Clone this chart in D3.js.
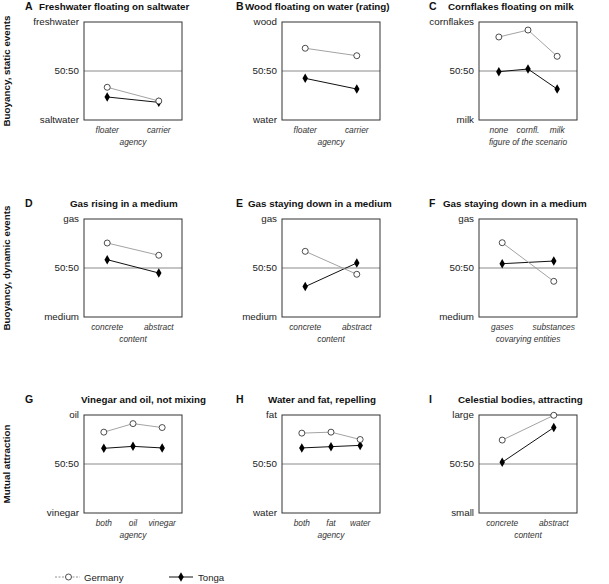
<!DOCTYPE html>
<html><head><meta charset="utf-8">
<script src="https://cdn.jsdelivr.net/npm/d3@7"></script>
<style>body{margin:0;background:#fff}svg{display:block;font-family:"Liberation Sans",Arial,sans-serif}</style>
</head><body>
<svg id="c" width="609" height="584"></svg>
<script>
// ---- data ----
const letters = ["A","B","C","D","E","F","G","H","I"];
const titles = ["Freshwater floating on saltwater","Wood floating on water (rating)","Cornflakes floating on milk",
  "Gas rising in a medium","Gas staying down in a medium","Gas staying down in a medium",
  "Vinegar and oil, not mixing","Water and fat, repelling","Celestial bodies, attracting"];
const rowLabels = ["Buoyancy, static events","Buoyancy, dynamic events","Mutual attraction"];
const yTop = ["freshwater","wood","cornflakes","gas","gas","gas","oil","fat","large"];
const yMid = "50:50";
const yBottom = ["saltwater","water","milk","medium","medium","medium","vinegar","water","small"];
const categories = [["floater","carrier"],["floater","carrier"],["none","cornfl.","milk"],
  ["concrete","abstract"],["concrete","abstract"],["gases","substances"],
  ["both","oil","vinegar"],["both","fat","water"],["concrete","abstract"]];
const xTitles = ["agency","agency","figure of the scenario","content","content","covarying entities","agency","agency","content"];
// preference for the top option (0 = bottom, 0.5 = 50:50, 1 = top)
const germany = [[0.334,0.194],[0.732,0.656],[0.847,0.918,0.650],
  [0.755,0.630],[0.670,0.436],[0.758,0.364],
  [0.825,0.912,0.872],[0.815,0.825,0.750],[0.744,0.997]];
const tonga = [[0.235,0.180],[0.425,0.316],[0.493,0.520,0.316],
  [0.585,0.449],[0.310,0.551],[0.544,0.571],
  [0.660,0.680,0.664],[0.664,0.677,0.690],[0.518,0.872]];
const seriesNames = ["Germany","Tonga"];

// ---- layout ----
const colX = [84, 282, 479], rowY = [22, 219, 415], W = 98, H = 98;
const letterX = [25, 236, 429];
const titleX = [39, 245, 448, 70, 248, 443, 81, 268, 458];

const svg = d3.select("#c");
const y = d3.scaleLinear().domain([0,1]).range([H,0]);

rowLabels.forEach((t,r)=>{
  svg.append("text").attr("transform",`translate(9.5,${rowY[r]+H/2}) rotate(-90)`)
    .attr("text-anchor","middle").attr("font-weight","bold").attr("font-size",9.8).attr("fill","#111").text(t);
});

letters.forEach((L,i)=>{
  const r = Math.floor(i/3), c = i%3;
  const x0 = colX[c], y0 = rowY[r];
  const g = svg.append("g").attr("transform",`translate(${x0},${y0})`);
  svg.append("text").attr("x",letterX[c]).attr("y",y0-12.5).attr("font-weight","bold").attr("font-size",10.5).attr("fill","#111").text(L);
  svg.append("text").attr("x",titleX[i]).attr("y",y0-12.5).attr("font-weight","bold").attr("font-size",9.8).attr("fill","#111").text(titles[i]);

  const cats = categories[i];
  const x = d3.scalePoint().domain(cats).range([0,W]).padding(cats.length===2?0.45:0.68);

  // y tick labels
  const yl = [[1,yTop[i]],[0.5,yMid],[0,yBottom[i]]];
  g.selectAll("text.yl").data(yl).join("text").attr("class","yl")
    .attr("x",-5).attr("y",d=>y(d[0])).attr("dy","0.35em").attr("text-anchor","end")
    .attr("font-size",9.8).attr("fill","#222").text(d=>d[1]);

  // 50:50 line
  g.append("line").attr("x1",0).attr("x2",W).attr("y1",y(0.5)).attr("y2",y(0.5)).attr("stroke","#8a8a8a").attr("stroke-width",1);
  // box
  g.append("rect").attr("x",0).attr("y",0).attr("width",W).attr("height",H).attr("fill","none").attr("stroke","#333").attr("stroke-width",1);

  // x tick labels
  g.selectAll("text.xl").data(cats).join("text").attr("class","xl")
    .attr("x",d=>x(d)).attr("y",H+13).attr("text-anchor","middle").attr("font-style","italic")
    .attr("font-size",8.4).attr("fill","#333").text(d=>d);
  g.append("text").attr("x",W/2).attr("y",H+25).attr("text-anchor","middle").attr("font-style","italic")
    .attr("font-size",8.4).attr("fill","#333").text(xTitles[i]);

  const line = d3.line().x((d,k)=>x(cats[k])).y(d=>y(d));
  // Tonga
  g.append("path").attr("d",line(tonga[i])).attr("fill","none").attr("stroke","#111").attr("stroke-width",1);
  g.selectAll("path.dm").data(tonga[i]).join("path").attr("class","dm")
    .attr("d",d3.symbol(d3.symbolDiamond,26)).attr("transform",(d,k)=>`translate(${x(cats[k])},${y(d)})`).attr("fill","#000");
  // Germany
  g.append("path").attr("d",line(germany[i])).attr("fill","none").attr("stroke","#999").attr("stroke-width",0.9);
  g.selectAll("circle.gm").data(germany[i]).join("circle").attr("class","gm")
    .attr("cx",(d,k)=>x(cats[k])).attr("cy",d=>y(d)).attr("r",3).attr("fill","#fff").attr("stroke","#222").attr("stroke-width",0.8);
});

// legend
const lg = svg.append("g");
lg.append("line").attr("x1",55).attr("x2",80).attr("y1",577).attr("y2",577).attr("stroke","#777").attr("stroke-width",0.8).attr("stroke-dasharray","2,1.5");
lg.append("circle").attr("cx",68.5).attr("cy",577).attr("r",3).attr("fill","#fff").attr("stroke","#222").attr("stroke-width",0.8);
lg.append("text").attr("x",84).attr("y",580.5).attr("font-size",9.6).attr("fill","#222").text(seriesNames[0]);
lg.append("line").attr("x1",169).attr("x2",193).attr("y1",577).attr("y2",577).attr("stroke","#111").attr("stroke-width",1);
lg.append("path").attr("d",d3.symbol(d3.symbolDiamond,26)).attr("transform","translate(181,577)").attr("fill","#000");
lg.append("text").attr("x",198).attr("y",580.5).attr("font-size",9.6).attr("fill","#222").text(seriesNames[1]);
</script>
</body></html>
